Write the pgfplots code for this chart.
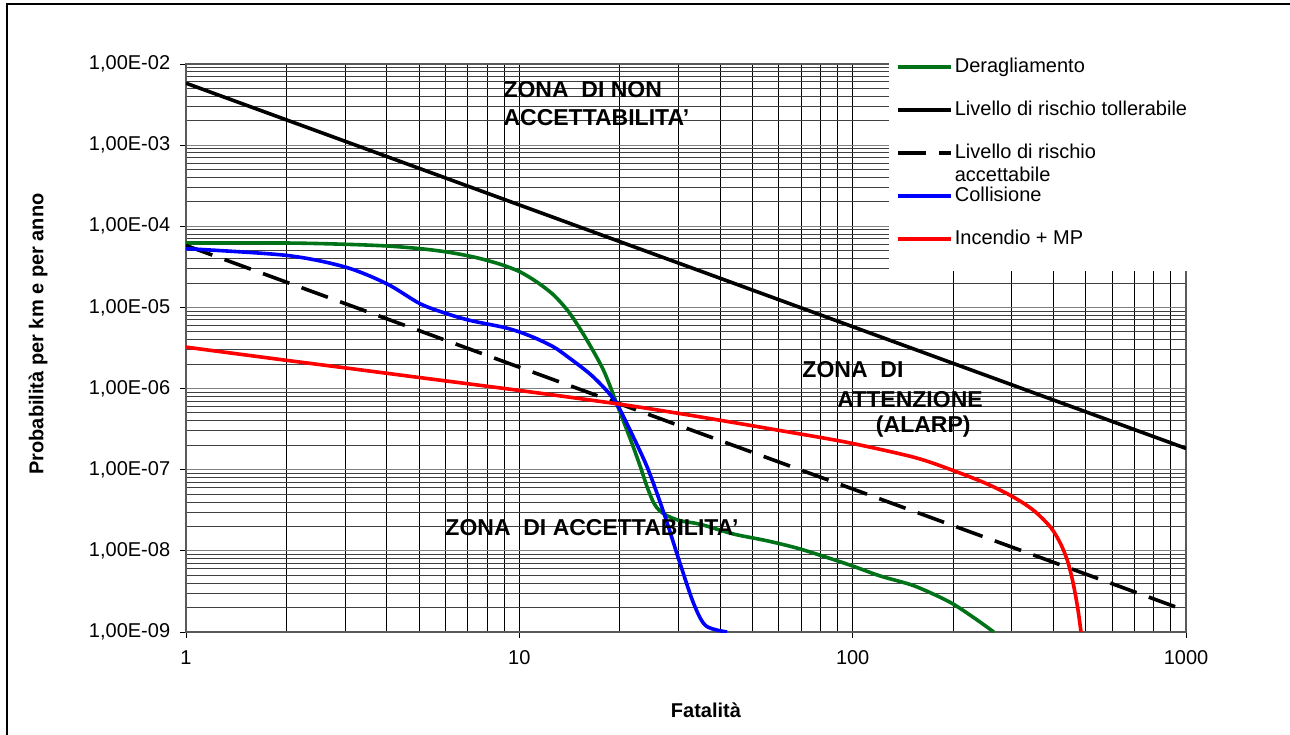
\documentclass[border=0pt]{standalone}
\usepackage{fontspec}
\setmainfont{Liberation Sans}
\usepackage{pgfplots}
\pgfplotsset{compat=1.18}
\definecolor{dgreen}{RGB}{0,115,25}
\begin{document}
\fontsize{20bp}{23bp}\selectfont
\begin{tikzpicture}[x=1bp,y=1bp]
\useasboundingbox (0,0) rectangle (1290,735);
\draw[line width=1.5bp] (7,0) -- (7,731) -- (1290,731);
\begin{axis}[
  at={(186bp,103bp)}, anchor=south west,
  scale only axis, width=1000bp, height=568bp,
  xmode=log, ymode=log,
  xmin=1, xmax=1000, ymin=1e-9, ymax=1e-2,
  xtick={1,10,100,1000}, xticklabels={1,10,100,1000},
  ytick={1e-9,1e-8,1e-7,1e-6,1e-5,1e-4,1e-3,1e-2},
  yticklabels={{1,00E-09},{1,00E-08},{1,00E-07},{1,00E-06},{1,00E-05},{1,00E-04},{1,00E-03},{1,00E-02}},
  minor xtick={2,3,4,5,6,7,8,9,20,30,40,50,60,70,80,90,200,300,400,500,600,700,800,900},
  minor ytick={2e-9,3e-9,4e-9,5e-9,6e-9,7e-9,8e-9,9e-9,
               2e-8,3e-8,4e-8,5e-8,6e-8,7e-8,8e-8,9e-8,
               2e-7,3e-7,4e-7,5e-7,6e-7,7e-7,8e-7,9e-7,
               2e-6,3e-6,4e-6,5e-6,6e-6,7e-6,8e-6,9e-6,
               2e-5,3e-5,4e-5,5e-5,6e-5,7e-5,8e-5,9e-5,
               2e-4,3e-4,4e-4,5e-4,6e-4,7e-4,8e-4,9e-4,
               2e-3,3e-3,4e-3,5e-3,6e-3,7e-3,8e-3,9e-3},
  grid=both,
  major x grid style={black, line width=0.9bp},
  minor x grid style={black, line width=0.9bp},
  major y grid style={gray, line width=1.2bp},
  minor y grid style={black!75, line width=1bp},
  tick pos=left, tick align=outside,
  major tick length=6bp, minor tick length=0bp,
  every tick/.style={black, line width=0.9bp},
  axis line style={gray!70!black, line width=1.4bp},
  xticklabel style={font=\fontsize{20bp}{23bp}\selectfont, yshift=-6bp},
  yticklabel style={font=\fontsize{20bp}{23bp}\selectfont, xshift=-3bp},
  legend cell align=left,
  legend image code/.code={\draw[#1] (0bp,0bp) -- (53bp,0bp);},
  legend style={at={(0.703,1.051)}, anchor=north west, fill=white, draw=none,
    inner xsep=7bp, inner ysep=21bp, row sep=21bp, column sep=0bp,
    font=\fontsize{20bp}{23bp}\selectfont,
    nodes={text height=14bp, text depth=4bp, inner sep=2bp}},
]
\addplot[dgreen, line width=3.6bp, smooth] coordinates {
(1,6.22e-5) (2.0,6.22e-5) (3.0,6.0e-5) (4.0,5.72e-5) (5.04,5.3e-5) (6.07,4.82e-5)
(7.13,4.27e-5) (8.0,3.8e-5) (8.97,3.3e-5) (10.07,2.73e-5) (11.3,2.05e-5)
(12.7,1.41e-5) (14.2,8.36e-6) (15.97,3.92e-6) (17.9,1.67e-6) (19.6,6.5e-7)
(21.05,3.03e-7) (22.0,1.88e-7) (23.1,1.07e-7) (24.2,6.05e-8) (25.3,3.9e-8)
(26.3,3.15e-8) (27.8,2.7e-8) (30.4,2.35e-8) (35.0,2.12e-8) (44.0,1.61e-8) (55.4,1.33e-8)
(69.8,1.05e-8) (96.4,6.85e-9) (121,4.9e-9) (153,3.7e-9) (195,2.35e-9)
(231,1.5e-9) (265,1.0e-9)};
\addlegendentry{Deragliamento}
\addplot[black, line width=3.6bp] coordinates {(1,5.8e-3) (1000,1.83e-7)};
\addlegendentry{Livello di rischio tollerabile}
\addplot[black, line width=3.6bp, dash pattern=on 28bp off 13bp] coordinates {(1,5.8e-5) (1000,1.83e-9)};
\addlegendentry{\smash{\begin{tabular}[t]{@{}l@{}}Livello di rischio\\accettabile\end{tabular}}}
\addplot[blue, line width=3.6bp, smooth] coordinates {
(1,5.3e-5) (2.0,4.38e-5) (3.0,3.15e-5) (4.0,1.96e-5) (5.04,1.11e-5) (6.07,8.36e-6)
(7.13,6.9e-6) (8.95,5.7e-6) (10.06,4.95e-6) (11.3,4.1e-6) (12.7,3.24e-6)
(13.9,2.5e-6) (16.3,1.51e-6) (18.3,9.4e-7) (19.6,6.5e-7) (21.05,3.66e-7)
(24.2,1.07e-7) (27.2,2.84e-8) (30.4,6.85e-9) (33.4,2.2e-9) (36.3,1.19e-9)
(42,1.0e-9)};
\addlegendentry{Collisione}
\addplot[red, line width=3.6bp, smooth] coordinates {
(1,3.24e-6) (2,2.23e-6) (3,1.8e-6) (5,1.37e-6) (10.06,9.45e-7)
(19.6,6.5e-7) (30.4,4.91e-7) (45,3.75e-7) (60.8,3.03e-7) (96.4,2.17e-7) (153,1.42e-7) (201,9.72e-8)
(253.6,6.66e-8) (305,4.55e-8) (350,3.12e-8) (393,1.94e-8) (421,1.21e-8) (441,7.5e-9)
(457,4.27e-9) (473,2.0e-9) (484,1.0e-9)};
\addlegendentry{Incendio + MP}
\node[anchor=base west, font=\bfseries\fontsize{23bp}{26bp}\selectfont, inner sep=0pt] at (axis cs:8.954,3.914e-3) {ZONA~~DI NON};
\node[anchor=base west, font=\bfseries\fontsize{23bp}{26bp}\selectfont, inner sep=0pt] at (axis cs:8.954,1.765e-3) {ACCETTABILITA'};
\node[anchor=base west, font=\bfseries\fontsize{23bp}{26bp}\selectfont, inner sep=0pt] at (axis cs:70.6,1.367e-6) {ZONA~~DI};
\node[anchor=base west, font=\bfseries\fontsize{23bp}{26bp}\selectfont, inner sep=0pt] at (axis cs:89.9,5.87e-7) {ATTENZIONE};
\node[anchor=base west, font=\bfseries\fontsize{23bp}{26bp}\selectfont, inner sep=0pt] at (axis cs:117.3,2.88e-7) {(ALARP)};
\node[anchor=base west, font=\bfseries\fontsize{23bp}{26bp}\selectfont, inner sep=0pt] at (axis cs:5.995,1.53e-8) {ZONA~~DI ACCETTABILITA'};
\end{axis}
\node[rotate=90, font=\bfseries] at (38,401) {Probabilità per km e per anno};
\node[font=\bfseries] at (706,25) {Fatalità};
\end{tikzpicture}
\end{document}
